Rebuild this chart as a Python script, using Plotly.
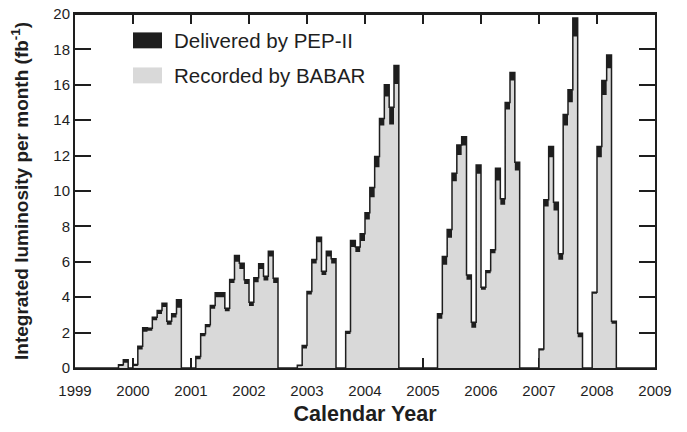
import plotly.graph_objects as go

# Monthly integrated luminosity (fb^-1), Jan 1999 .. Dec 2008
years = list(range(1999, 2010))
delivered = [
    # 1999
    0, 0, 0, 0, 0, 0, 0, 0, 0, 0.18, 0.46, 0,
    # 2000
    0.2, 1.23, 2.27, 2.25, 2.87, 3.25, 3.66, 2.64, 3.06, 3.85, 0, 0,
    # 2001
    0, 0.65, 1.93, 2.44, 3.53, 4.25, 4.25, 3.38, 5.0, 6.36, 5.92, 4.98,
    # 2002
    3.72, 5.1, 5.89, 5.19, 6.6, 5.07, 0, 0, 0, 0, 0.15, 1.27,
    # 2003
    4.32, 6.13, 7.39, 5.47, 6.6, 6.17, 0, 0, 2.06, 7.2, 6.83, 7.58,
    # 2004
    8.77, 10.2, 11.95, 14.1, 16.0, 14.73, 17.09, 0, 0, 0, 0, 0,
    # 2005
    0, 0, 0, 3.06, 6.3, 7.82, 11.0, 12.6, 13.07, 5.26, 2.58, 11.47,
    # 2006
    4.56, 5.5, 6.68, 11.29, 9.56, 15.0, 16.7, 11.63, 0, 0, 0, 0,
    # 2007
    1.08, 9.5, 12.51, 9.37, 6.45, 14.32, 15.72, 19.78, 1.97, 0, 0, 4.28,
    # 2008
    12.51, 16.24, 17.69, 2.64, 0, 0, 0, 0, 0, 0, 0, 0,
]
recorded = [
    # 1999
    0, 0, 0, 0, 0, 0, 0, 0, 0, 0.12, 0.3, 0,
    # 2000
    0.12, 1.05, 2.05, 2.1, 2.7, 3.05, 3.45, 2.45, 2.85, 3.4, 0, 0,
    # 2001
    0, 0.5, 1.8, 2.3, 3.35, 4.0, 4.0, 3.2, 4.8, 6.0, 5.6, 4.75,
    # 2002
    3.5, 4.85, 5.6, 4.95, 6.3, 4.8, 0, 0, 0, 0, 0.1, 1.1,
    # 2003
    4.15, 5.9, 7.1, 5.25, 6.3, 5.9, 0, 0, 1.92, 6.83, 6.55, 7.17,
    # 2004
    8.39, 9.65, 11.34, 13.7, 15.34, 13.76, 16.05, 0, 0, 0, 0, 0,
    # 2005
    0, 0, 0, 2.78, 5.83, 7.36, 10.55, 12.04, 12.57, 4.98, 2.27, 10.97,
    # 2006
    4.42, 5.36, 6.49, 10.59, 9.22, 14.6, 16.24, 11.16, 0, 0, 0, 0,
    # 2007
    0.99, 9.12, 11.91, 8.9, 6.11, 13.7, 15.02, 18.73, 1.74, 0, 0, 4.19,
    # 2008
    11.91, 15.43, 16.94, 2.5, 0, 0, 0, 0, 0, 0, 0, 0,
]
legend_labels = ["Delivered by PEP-II", "Recorded by BABAR"]

# month-start positions (decimal year); extra closing point at the end
x = [1999 + i / 12 for i in range(len(delivered))] + [2009]
yd = delivered + [0]
yr = recorded + [0]

FONT = "Liberation Sans, Arial, sans-serif"
INK = "#1e1e1e"
GRAY = "#d9d9d9"

fig = go.Figure()
fig.add_trace(go.Scatter(x=x, y=yd, mode="lines", line=dict(shape="hv", width=0, color=INK),
                         fill="tozeroy", fillcolor=INK, showlegend=False, hoverinfo="skip"))
fig.add_trace(go.Scatter(x=x, y=yr, mode="lines", line=dict(shape="hv", width=0, color=GRAY),
                         fill="tozeroy", fillcolor=GRAY, showlegend=False, hoverinfo="skip"))
fig.add_trace(go.Scatter(x=x, y=yd, mode="lines", line=dict(shape="hv", width=1.5, color=INK),
                         showlegend=False, hoverinfo="skip"))

# legend swatches + labels (paper coordinates)
sw = [(INK, 0.948, 0.903), (GRAY, 0.849, 0.804)]
for (col, y1, y0), lab in zip(sw, legend_labels):
    fig.add_shape(type="rect", xref="paper", yref="paper", x0=0.10, x1=0.15, y0=y0, y1=y1,
                  fillcolor=col, line=dict(width=0))
    fig.add_annotation(xref="paper", yref="paper", x=0.167, y=(y0 + y1) / 2, text=lab,
                       showarrow=False, xanchor="left", yanchor="middle",
                       font=dict(family=FONT, size=20.5, color=INK))

# plot frame top edge (drawn explicitly so it is never clipped)
fig.add_shape(type="line", xref="paper", yref="paper", x0=0, x1=1, y0=1, y1=1,
              line=dict(color=INK, width=2), layer="above")

# the page body adds an 8px offset; margins compensate so the plot frame lands on the reference
fig.update_layout(
    width=687, height=432,
    margin=dict(l=67, r=40, t=6, b=72),
    plot_bgcolor="white", paper_bgcolor="white",
    font=dict(family=FONT, color=INK),
    xaxis=dict(range=[1999, 2009], tickvals=years, ticktext=[str(v) for v in years],
               ticks="inside", ticklen=10, tickwidth=1.5, tickcolor=INK,
               showline=True, linewidth=2, linecolor=INK, mirror="ticks",
               showgrid=False, zeroline=False, layer="below traces", automargin=False,
               ticklabelstandoff=8, ticklabeloverflow="allow",
               tickfont=dict(family=FONT, size=15, color=INK),
               title=dict(text="<b>Calendar Year</b>", font=dict(family=FONT, size=21.5, color=INK),
                          standoff=8)),
    yaxis=dict(range=[0, 20], dtick=2,
               ticks="inside", ticklen=16, tickwidth=1.5, tickcolor=INK,
               showline=True, linewidth=2, linecolor=INK, mirror="ticks",
               showgrid=False, zeroline=False, layer="below traces", automargin=False,
               ticklabeloverflow="allow",
               tickfont=dict(family=FONT, size=15, color=INK),
               title=dict(text="<b>Integrated luminosity per month (fb<sup>-1</sup>)</b>",
                          font=dict(family=FONT, size=19, color=INK), standoff=20)),
)

fig.write_html("out.html")
